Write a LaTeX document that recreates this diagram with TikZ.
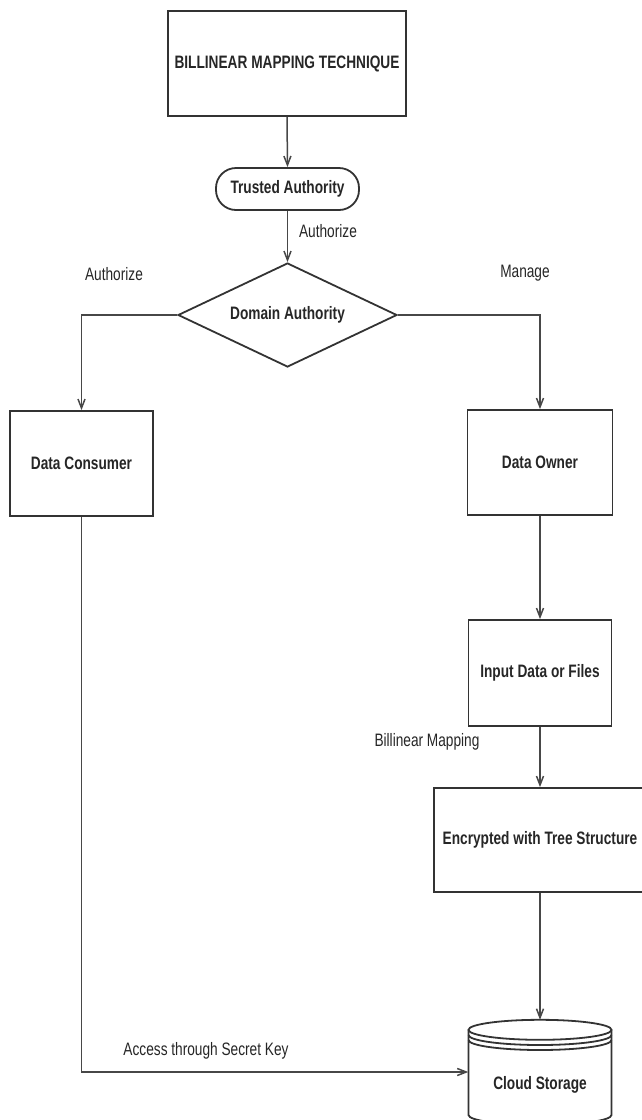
\documentclass[tikz,border=0pt]{standalone}
\usepackage{fontspec}
\setmainfont{Liberation Sans}[FakeStretch=0.76]
\usetikzlibrary{shapes.geometric}
\usetikzlibrary{arrows.meta}

\begin{document}
\begin{tikzpicture}[x=1pt, y=-1pt,
    every node/.style={font=\fontsize{18pt}{21pt}\selectfont, inner sep=0pt, text=black!85},
    block/.style={draw=black!80, line width=1.8pt, font=\fontsize{18pt}{21pt}\selectfont\bfseries},
    flow/.style={draw=black!72, line width=1.5pt, -{Straight Barb[length=9pt,width=7pt]}},
    rim/.style={draw=black!80, line width=1.8pt}]
    \useasboundingbox (0,0) rectangle (641,1120);

    \node [block, minimum width=238pt, minimum height=105pt] (technique) at (287,63.5) {BILLINEAR MAPPING TECHNIQUE};
    \node [block, rounded corners=20pt, minimum width=143pt, minimum height=42pt] (trusted) at (287.5,189) {Trusted Authority};
    \node [block, diamond, aspect=2.3, minimum width=219pt, minimum height=104pt] (domain) at (287.5,315) {Domain Authority};
    \node [block, minimum width=143pt, minimum height=105pt] (consumer) at (81.5,463.5) {Data Consumer};
    \node [block, minimum width=145pt, minimum height=105pt] (owner) at (540,462.5) {Data Owner};
    \node [block, minimum width=143pt, minimum height=106pt] (input) at (540,673) {Input Data or Files};
    \node [block, minimum width=212pt, minimum height=104pt] (encrypt) at (540,840) {Encrypted with Tree Structure};
    \node [minimum width=143pt, minimum height=104pt] (cloud) at (540,1072) {};
    \node [font=\fontsize{18pt}{21pt}\selectfont\bfseries] (cloudtext) at (540,1085) {Cloud Storage};

    % storage drum
    \draw [rim] (cloud.north) ++(0,10) ellipse [x radius=71.5pt, y radius=10pt];
    \draw [rim] (468.5,1035) arc [start angle=180, end angle=360, x radius=71.5pt, y radius=10pt];
    \draw [rim] (468.5,1040) arc [start angle=180, end angle=360, x radius=71.5pt, y radius=10pt];
    \draw [rim] (468.5,1030) -- (468.5,1115) arc [start angle=180, end angle=360, x radius=71.5pt, y radius=10pt] -- (611.5,1030);

    \draw [flow] (technique.south) -- (trusted.north);
    \draw [flow] (trusted.south) -- (domain.north);
    \draw [flow] (domain.west) -| (consumer.north);
    \draw [flow] (domain.east) -| (owner.north);
    \draw [flow] (owner.south) -- (input.north);
    \draw [flow] (input.south) -- (encrypt.north);
    \draw [flow] (encrypt.south) -- (cloud.north);
    \draw [flow] (consumer.south) |- (cloud.west);

    \node (authorize1) at (328,231) {Authorize};
    \node (authorize2) at (114,274) {Authorize};
    \node (manage) at (525,273) {Manage};
    \node (mapping) at (427,742) {Billinear Mapping};
    \node (access) at (206,1051) {Access through Secret Key};
\end{tikzpicture}
\end{document}
